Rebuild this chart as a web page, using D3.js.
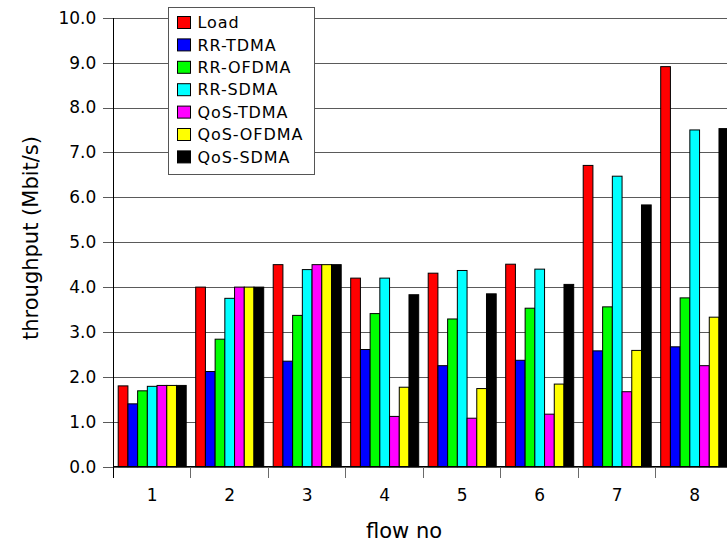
<!DOCTYPE html>
<html lang="en">

<head>
    <meta charset="UTF-8" />
    <title>throughput per flow</title>
    <style>
        body { margin: 0; background: #fff; }
        svg text { font-family: "DejaVu Sans", sans-serif; fill: #000; }
    </style>
</head>

<body>
    <div id="container"></div>
</body>
<script src="https://cdnjs.cloudflare.com/ajax/libs/d3/7.8.5/d3.min.js"></script>
<script>
    // data
    const flows = ['1', '2', '3', '4', '5', '6', '7', '8']
    const seriesNames = ['Load', 'RR-TDMA', 'RR-OFDMA', 'RR-SDMA', 'QoS-TDMA', 'QoS-OFDMA', 'QoS-SDMA']
    const load = [1.8, 4.0, 4.5, 4.2, 4.31, 4.51, 6.71, 8.91]
    const rrTdma = [1.4, 2.12, 2.35, 2.61, 2.25, 2.37, 2.58, 2.67]
    const rrOfdma = [1.69, 2.84, 3.37, 3.41, 3.29, 3.53, 3.56, 3.76]
    const rrSdma = [1.79, 3.75, 4.39, 4.2, 4.37, 4.4, 6.47, 7.5]
    const qosTdma = [1.81, 4.0, 4.5, 1.12, 1.08, 1.17, 1.67, 2.25]
    const qosOfdma = [1.81, 4.0, 4.5, 1.77, 1.74, 1.84, 2.59, 3.33]
    const qosSdma = [1.81, 4.0, 4.5, 3.83, 3.85, 4.06, 5.83, 7.53]
    const yTicks = [0, 1, 2, 3, 4, 5, 6, 7, 8, 9, 10]
    const colors = ['#ff0000', '#0000ff', '#00ff00', '#00ffff', '#ff00ff', '#ffff00', '#000000']

    const values = [load, rrTdma, rrOfdma, rrSdma, qosTdma, qosOfdma, qosSdma]

    let W = 727, H = 544
    let pLeft = 113.3, pTop = 17.7, pBottom = 466.7, pRight = 733.3

    let svg = d3.select('#container').append('svg').attr('width', W).attr('height', H)

    // scales
    let x0 = d3.scaleBand().domain(flows).range([pLeft, pRight]).padding(0)
    let x1 = d3.scaleBand().domain(seriesNames).range([4.9, x0.bandwidth() - 4.6]).padding(0)
    let y = d3.scaleLinear().domain([0, 10]).range([pBottom, pTop])

    // grid lines
    svg.append('g')
        .attr('transform', `translate(${pLeft},0)`)
        .call(d3.axisLeft(y).tickValues(yTicks).tickSize(-(W - pLeft)).tickFormat(''))
        .call(g => g.select('.domain').remove())
        .call(g => g.selectAll('line').attr('stroke', '#5a5a5a').attr('shape-rendering', 'crispEdges'))

    // y axis
    svg.append('g')
        .attr('transform', `translate(${pLeft},0)`)
        .call(d3.axisLeft(y).tickValues(yTicks).tickSize(10).tickSizeOuter(0).tickPadding(7).tickFormat(d3.format('.1f')))
        .call(g => g.select('.domain').remove())
        .call(g => g.selectAll('line').attr('stroke', '#5a5a5a').attr('shape-rendering', 'crispEdges'))
        .call(g => g.selectAll('text').style('font-size', '17px'))

    // bars
    let group = svg.append('g').selectAll('g').data(flows).enter().append('g')
        .attr('transform', d => `translate(${x0(d)},0)`)
    group.selectAll('rect')
        .data((d, i) => seriesNames.map((s, k) => ({ s: s, v: values[k][i], c: colors[k] })))
        .enter().append('rect')
        .attr('x', d => x1(d.s))
        .attr('y', d => y(d.v))
        .attr('width', x1.bandwidth())
        .attr('height', d => y(0) - y(d.v))
        .attr('fill', d => d.c)
        .attr('stroke', '#000')
        .attr('stroke-width', 1)

    // x axis
    svg.append('g')
        .attr('transform', `translate(0,${pBottom})`)
        .call(d3.axisBottom(x0).tickSize(0).tickPadding(22))
        .call(g => g.select('.domain').remove())
        .call(g => g.selectAll('text').style('font-size', '17px'))
    svg.append('line').attr('x1', pLeft).attr('x2', W).attr('y1', pBottom).attr('y2', pBottom)
        .attr('stroke', '#000').attr('shape-rendering', 'crispEdges')
    svg.append('g').selectAll('line').data(flows).enter().append('line')
        .attr('x1', d => x0(d)).attr('x2', d => x0(d))
        .attr('y1', pBottom).attr('y2', pBottom + 11)
        .attr('stroke', (d, i) => i == 0 ? '#000' : '#6a6a6a').attr('shape-rendering', 'crispEdges')
    svg.append('line').attr('x1', pLeft).attr('x2', pLeft).attr('y1', pTop).attr('y2', pBottom + 11)
        .attr('stroke', '#000').attr('shape-rendering', 'crispEdges')

    // axis titles
    svg.append('text').text('flow no')
        .attr('x', 404).attr('y', 538)
        .attr('text-anchor', 'middle').style('font-size', '21px')
    svg.append('text').text('throughput (Mbit/s)')
        .attr('transform', 'translate(38,238) rotate(-90)')
        .attr('text-anchor', 'middle').style('font-size', '21px')

    // legend
    let lg = svg.append('g').attr('transform', 'translate(168.5,7.5)')
    lg.append('rect').attr('width', 146).attr('height', 167)
        .attr('fill', '#fff').attr('stroke', '#555')
    let item = lg.selectAll('g.item').data(seriesNames).enter().append('g')
        .attr('transform', (d, i) => `translate(0,${15 + i * 22.4})`)
    item.append('rect').attr('x', 9).attr('y', -6).attr('width', 13).attr('height', 12)
        .attr('fill', (d, i) => colors[i]).attr('stroke', '#000')
    item.append('text').text(d => d)
        .attr('x', 29).attr('dy', '0.35em')
        .style('font-size', '16px').style('letter-spacing', '0.9px')
</script>

</html>
